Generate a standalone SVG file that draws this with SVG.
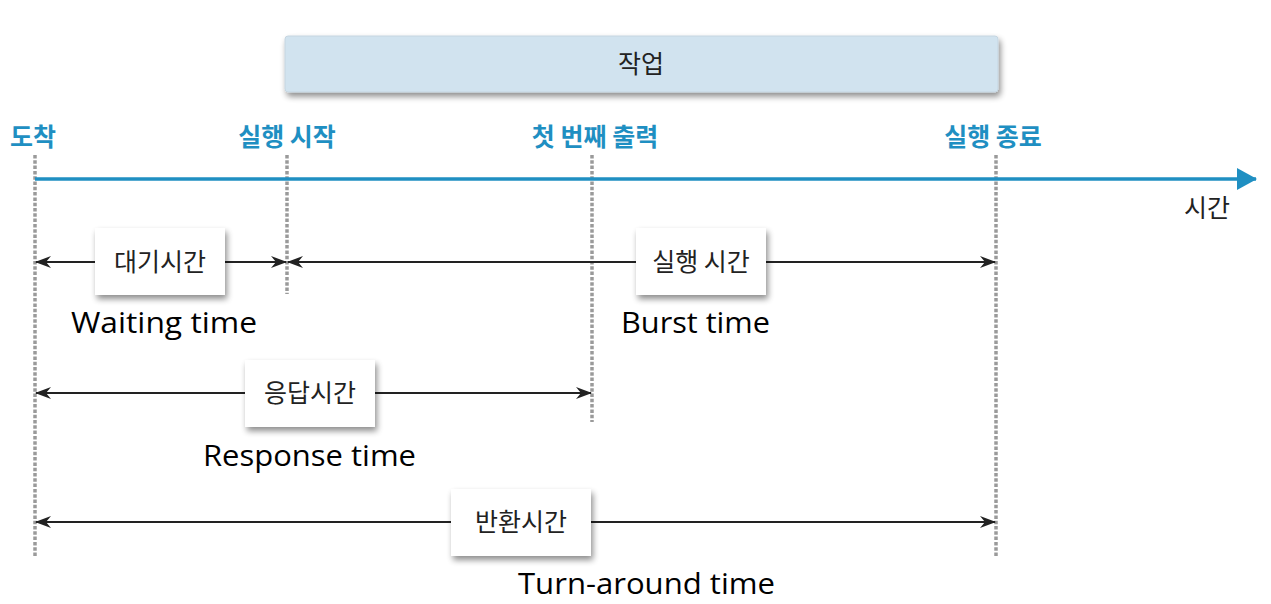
<svg xmlns="http://www.w3.org/2000/svg" width="1271" height="604" viewBox="0 0 1271 604">
<style>
.mark{font-family:"Noto Sans CJK KR",sans-serif;font-size:25px;font-weight:700;fill:#1f8fc2;text-anchor:middle}
.lbl{font-family:"Noto Sans CJK KR",sans-serif;font-size:25px;fill:#222;text-anchor:middle}
.en{font-family:"Open Sans","Noto Sans",sans-serif;font-size:30px;fill:#000}
.box{fill:#fff;filter:url(#sh)}
.vdot{stroke:#9a9a9a;stroke-width:3.5;stroke-dasharray:3.5 1.8;fill:none}
.arr{stroke:#222;stroke-width:1.8;fill:none;marker-start:url(#ah);marker-end:url(#ah)}
</style>
<defs>
<filter id="sh" x="-20%" y="-20%" width="150%" height="160%">
<feGaussianBlur in="SourceAlpha" stdDeviation="3"/>
<feOffset dx="2" dy="4" result="b"/>
<feComponentTransfer><feFuncA type="linear" slope="0.45"/></feComponentTransfer>
<feMerge><feMergeNode/><feMergeNode in="SourceGraphic"/></feMerge>
</filter>
<marker id="ah" viewBox="0 0 16 12" refX="15" refY="6" markerWidth="16" markerHeight="12" markerUnits="userSpaceOnUse" orient="auto-start-reverse">
<path d="M0,0 L16,6 L0,12 L5,6 Z" fill="#222"/>
</marker>
<marker id="bh" viewBox="0 0 20 22" refX="19" refY="11" markerWidth="20" markerHeight="22" markerUnits="userSpaceOnUse" orient="auto">
<path d="M0,0 L20,11 L0,22 Z" fill="#1f8fc2"/>
</marker>
</defs>
<rect width="1271" height="604" fill="#fff"/>

<g id="job">
<rect x="285" y="36" width="713" height="56" rx="3" fill="#d1e3ef" stroke="#c5d5e0" filter="url(#sh)"/>
<text x="641" y="73" class="lbl">작업</text>
</g>

<g id="guides">
<line class="vdot" x1="35" y1="155" x2="35" y2="556"/>
<line class="vdot" x1="287" y1="155" x2="287" y2="294"/>
<line class="vdot" x1="592" y1="155" x2="592" y2="422"/>
<line class="vdot" x1="996" y1="155" x2="996" y2="556"/>
</g>

<g id="timeline">
<line x1="35" y1="179" x2="1256" y2="179" stroke="#1f8fc2" stroke-width="3.5" marker-end="url(#bh)"/>
<text x="1207" y="217" class="lbl">시간</text>
</g>

<g id="markers">
<text x="33" y="146" class="mark">도착</text>
<text x="287" y="146" class="mark">실행 시작</text>
<text x="595" y="146" class="mark">첫 번째 출력</text>
<text x="993" y="146" class="mark">실행 종료</text>
</g>

<g id="connectors">
<line class="arr" x1="36" y1="262" x2="286" y2="262"/>
<line class="arr" x1="288" y1="262" x2="995" y2="262"/>
<line class="arr" x1="36" y1="393" x2="591" y2="393"/>
<line class="arr" x1="36" y1="522" x2="995" y2="522"/>
</g>

<g id="waiting">
<rect class="box" x="95" y="228" width="130" height="67"/>
<text x="160" y="271" class="lbl">대기시간</text>
<text x="71" y="333" class="en" textLength="186" lengthAdjust="spacingAndGlyphs">Waiting time</text>
</g>

<g id="burst">
<rect class="box" x="636" y="228" width="130" height="67"/>
<text x="701" y="271" class="lbl">실행 시간</text>
<text x="621" y="333" class="en" textLength="149" lengthAdjust="spacingAndGlyphs">Burst time</text>
</g>

<g id="response">
<rect class="box" x="245" y="360" width="130" height="67"/>
<text x="310" y="402" class="lbl">응답시간</text>
<text x="203" y="466" class="en" textLength="213" lengthAdjust="spacingAndGlyphs">Response time</text>
</g>

<g id="turnaround">
<rect class="box" x="451" y="489" width="140" height="67"/>
<text x="521" y="531" class="lbl">반환시간</text>
<text x="518" y="594" class="en" textLength="257" lengthAdjust="spacingAndGlyphs">Turn-around time</text>
</g>
</svg>
